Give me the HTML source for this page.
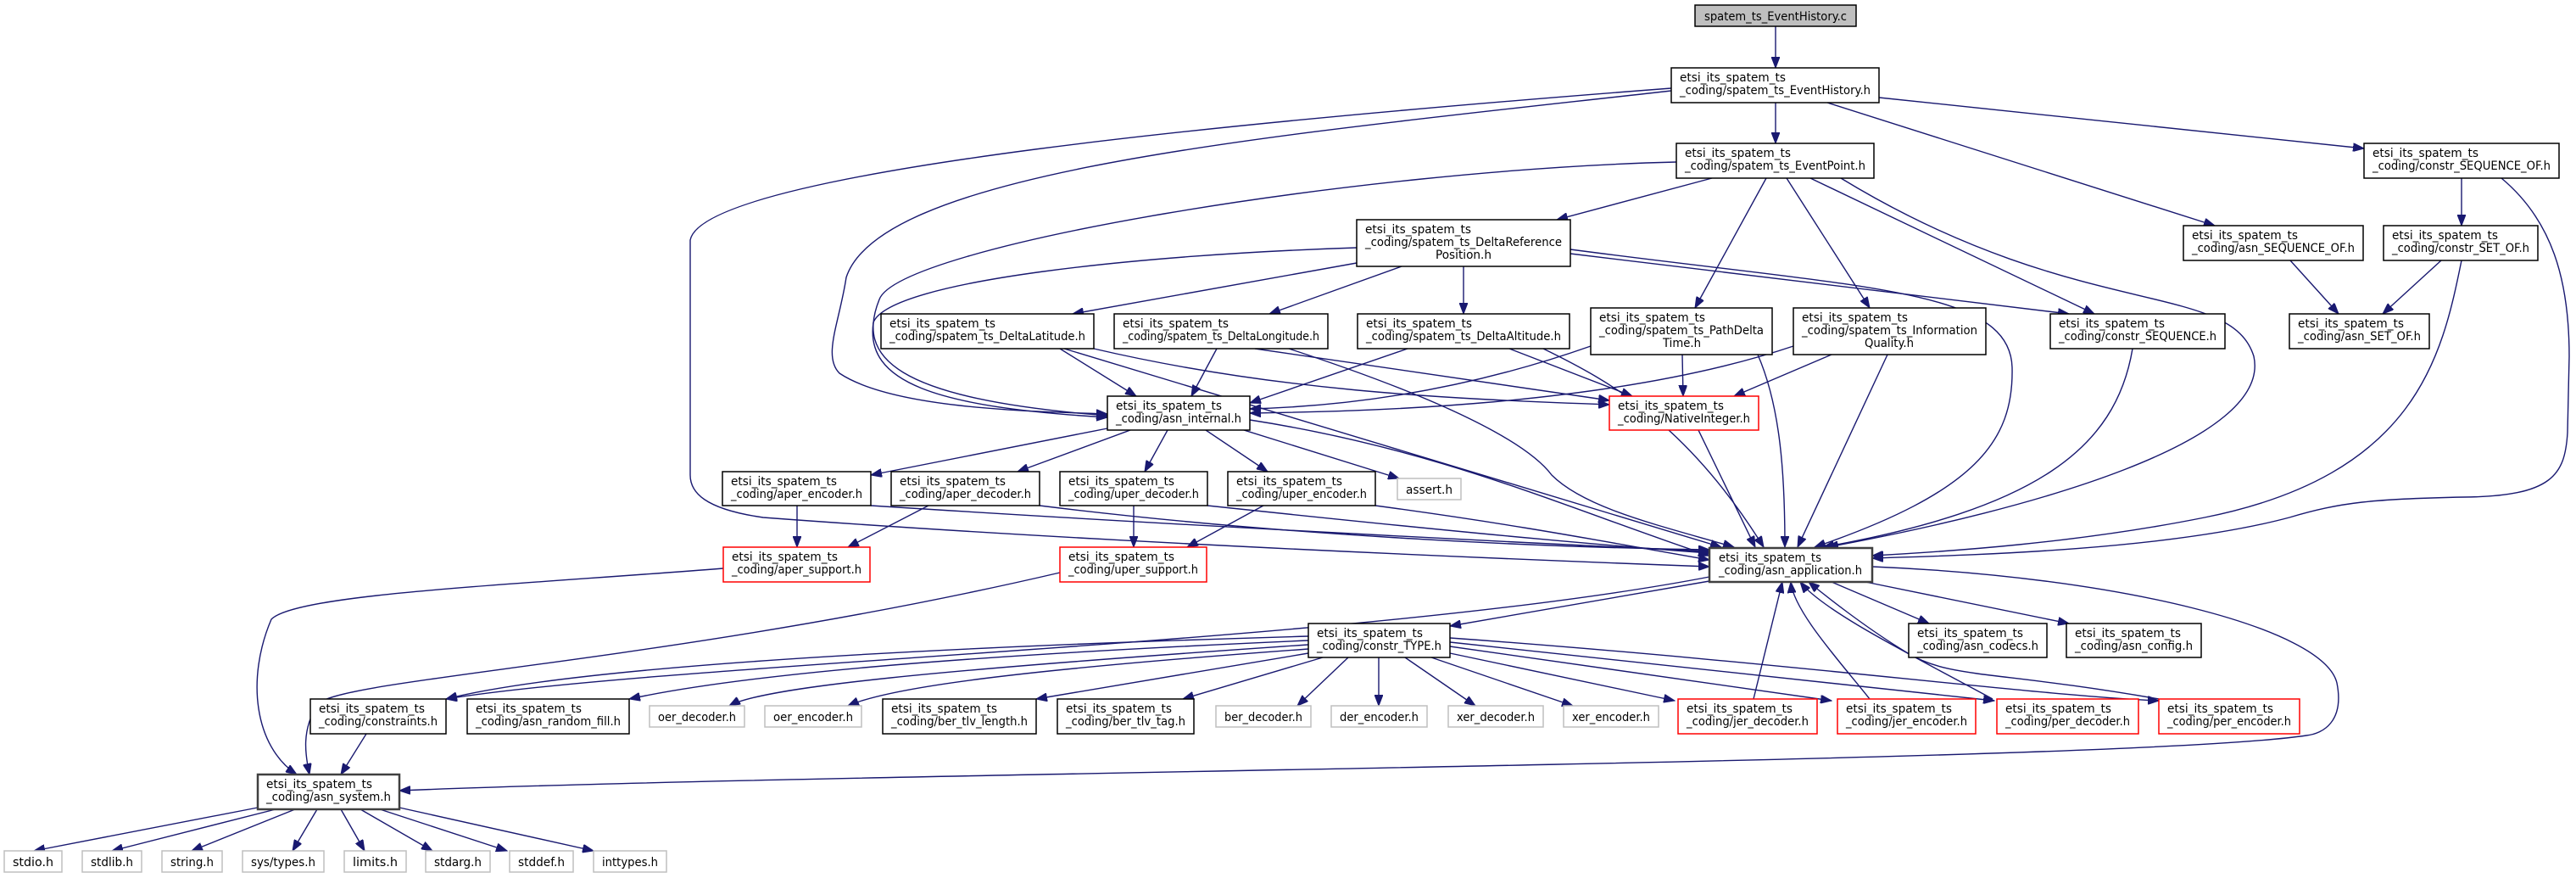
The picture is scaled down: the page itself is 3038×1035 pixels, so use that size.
<!DOCTYPE html>
<html><head><meta charset="utf-8"><style>
html,body{margin:0;padding:0;background:#fff;}
svg{display:block}
text{font-family:"DejaVu Sans","Liberation Sans",sans-serif;font-size:14px;fill:#000}
.n{fill:#fff;stroke:#000;stroke-width:1.5}
.g{fill:#fff;stroke:#bfbfbf;stroke-width:1.5}
.r{fill:#fff;stroke:#ff0000;stroke-width:1.5}
.d{fill:#fff;stroke:#404040;stroke-width:2.5}
.e path{fill:none;stroke:#191970;stroke-width:1.4}
</style></head><body>
<svg width="3038" height="1035" viewBox="0 0 3038 1035" xmlns="http://www.w3.org/2000/svg">
<defs><marker id="a" markerUnits="userSpaceOnUse" markerWidth="14" markerHeight="10" refX="13" refY="5" orient="auto"><path d="M0,0 L13,5 L0,10 z" fill="#191970" stroke="#191970"/></marker></defs>
<g class="e">
<path d="M2094,31 L2094,80" marker-end="url(#a)"/>
<path d="M2094,121 L2094,169" marker-end="url(#a)"/>
<path d="M2216,115 L2788,175" marker-end="url(#a)"/>
<path d="M2155,121 L2612,266" marker-end="url(#a)"/>
<path d="M1971,107 C1500,160 1040,200 998,327 C990,380 970,420 990,440 C1050,480 1200,485 1306,488" marker-end="url(#a)"/>
<path d="M1971,104 C1500,140 830,200 814,283 L814,560 C814,580 830,600 900,610 C1300,640 1800,660 2016,668" marker-end="url(#a)"/>
<path d="M2019,210 L1836,259" marker-end="url(#a)"/>
<path d="M1977,191 C1600,200 1060,290 1037,353 C1010,420 1050,470 1306,490" marker-end="url(#a)"/>
<path d="M1600,292 C1350,300 1050,330 1030,380 C1020,450 1100,480 1306,492" marker-end="url(#a)"/>
<path d="M2083,210 L1999,363" marker-end="url(#a)"/>
<path d="M2107,210 L2205,363" marker-end="url(#a)"/>
<path d="M2135,210 L2470,370" marker-end="url(#a)"/>
<path d="M2171,210 C2450,380 2630,330 2658,420 C2680,520 2400,600 2155,645" marker-end="url(#a)"/>
<path d="M1600,310 L1265,370" marker-end="url(#a)"/>
<path d="M1653,314 L1497,370" marker-end="url(#a)"/>
<path d="M1726,314 L1726,370" marker-end="url(#a)"/>
<path d="M1852,294 C2200,340 2370,340 2373,433 C2375,520 2330,580 2140,645" marker-end="url(#a)"/>
<path d="M1852,299 L2440,370" marker-end="url(#a)"/>
<path d="M1250,411 L1340,467" marker-end="url(#a)"/>
<path d="M1290,411 C1500,460 1700,470 1898,477" marker-end="url(#a)"/>
<path d="M1255,411 L2030,645" marker-end="url(#a)"/>
<path d="M1435,411 L1405,467" marker-end="url(#a)"/>
<path d="M1480,411 L1898,472" marker-end="url(#a)"/>
<path d="M1520,411 C1700,470 1800,520 1830,560 C1870,600 1960,620 2045,645" marker-end="url(#a)"/>
<path d="M1660,411 L1474,475" marker-end="url(#a)"/>
<path d="M1780,411 L1925,467" marker-end="url(#a)"/>
<path d="M1820,411 C1900,450 1990,500 2080,645" marker-end="url(#a)"/>
<path d="M1876,408 C1700,470 1550,480 1474,482" marker-end="url(#a)"/>
<path d="M1984,418 L1985,467" marker-end="url(#a)"/>
<path d="M2073,418 C2100,480 2105,560 2105,645" marker-end="url(#a)"/>
<path d="M2115,408 C1900,480 1600,485 1474,487" marker-end="url(#a)"/>
<path d="M2160,418 L2045,467" marker-end="url(#a)"/>
<path d="M2226,418 L2120,645" marker-end="url(#a)"/>
<path d="M2515,411 C2495,530 2400,600 2150,645" marker-end="url(#a)"/>
<path d="M2903,210 L2903,266" marker-end="url(#a)"/>
<path d="M2950,210 C3010,260 3030,330 3030,420 L3028,510 C3025,560 3010,585 2906,586 C2800,588 2760,592 2700,610 C2550,650 2300,655 2208,658" marker-end="url(#a)"/>
<path d="M2701,307 L2758,370" marker-end="url(#a)"/>
<path d="M2879,307 L2810,370" marker-end="url(#a)"/>
<path d="M2903,307 C2880,420 2850,560 2600,610 C2450,640 2300,650 2208,655" marker-end="url(#a)"/>
<path d="M2003,507 L2070,645" marker-end="url(#a)"/>
<path d="M1306,505 L1027,560" marker-end="url(#a)"/>
<path d="M1333,507 L1200,556" marker-end="url(#a)"/>
<path d="M1377,507 L1350,556" marker-end="url(#a)"/>
<path d="M1422,507 L1495,556" marker-end="url(#a)"/>
<path d="M1467,507 L1650,564" marker-end="url(#a)"/>
<path d="M1474,495 C1700,530 1850,600 2016,655" marker-end="url(#a)"/>
<path d="M940,596 L940,645" marker-end="url(#a)"/>
<path d="M1027,596 C1400,620 1800,640 2016,650" marker-end="url(#a)"/>
<path d="M1095,596 L1000,645" marker-end="url(#a)"/>
<path d="M1226,596 C1500,630 1800,645 2016,648" marker-end="url(#a)"/>
<path d="M1337,596 L1337,645" marker-end="url(#a)"/>
<path d="M1424,596 C1650,620 1850,640 2016,652" marker-end="url(#a)"/>
<path d="M1490,596 L1400,645" marker-end="url(#a)"/>
<path d="M1622,596 C1800,620 1900,640 2016,660" marker-end="url(#a)"/>
<path d="M853,670 C600,690 350,700 320,730 C290,800 300,880 350,913" marker-end="url(#a)"/>
<path d="M1250,675 C800,780 400,800 375,830 C355,860 360,890 365,913" marker-end="url(#a)"/>
<path d="M2016,685 L1710,738" marker-end="url(#a)"/>
<path d="M2160,686 L2275,735" marker-end="url(#a)"/>
<path d="M2200,686 L2440,735" marker-end="url(#a)"/>
<path d="M2208,668 C2500,680 2740,740 2756,805 C2765,850 2740,865 2720,867 C2500,900 1000,910 471,932" marker-end="url(#a)"/>
<path d="M2016,680 C1600,760 800,780 526,824" marker-end="url(#a)"/>
<path d="M1543,750 C1200,760 700,780 526,824" marker-end="url(#a)"/>
<path d="M1543,755 C1200,770 900,790 742,824" marker-end="url(#a)"/>
<path d="M1543,760 C1100,790 900,810 860,832" marker-end="url(#a)"/>
<path d="M1543,765 C1200,790 1050,810 1000,832" marker-end="url(#a)"/>
<path d="M1543,770 L1222,824" marker-end="url(#a)"/>
<path d="M1560,775 L1395,824" marker-end="url(#a)"/>
<path d="M1590,775 L1530,832" marker-end="url(#a)"/>
<path d="M1626,775 L1626,832" marker-end="url(#a)"/>
<path d="M1657,775 L1740,832" marker-end="url(#a)"/>
<path d="M1688,775 L1855,832" marker-end="url(#a)"/>
<path d="M1710,770 L1975,826" marker-end="url(#a)"/>
<path d="M1710,762 L2160,826" marker-end="url(#a)"/>
<path d="M1710,757 L2352,826" marker-end="url(#a)"/>
<path d="M1710,752 C2100,780 2400,820 2546,826" marker-end="url(#a)"/>
<path d="M432,865 L402,913" marker-end="url(#a)"/>
<path d="M2068,824 L2102,686" marker-end="url(#a)"/>
<path d="M2205,824 C2170,780 2115,720 2112,686" marker-end="url(#a)"/>
<path d="M2350,824 C2250,770 2150,720 2123,686" marker-end="url(#a)"/>
<path d="M2546,824 C2350,790 2300,800 2250,770 C2200,740 2150,700 2133,686" marker-end="url(#a)"/>
<path d="M304,952 L40,1003" marker-end="url(#a)"/>
<path d="M325,954 L132,1003" marker-end="url(#a)"/>
<path d="M348,954 L226,1003" marker-end="url(#a)"/>
<path d="M374,954 L345,1003" marker-end="url(#a)"/>
<path d="M402,954 L430,1003" marker-end="url(#a)"/>
<path d="M425,954 L510,1003" marker-end="url(#a)"/>
<path d="M448,954 L598,1003" marker-end="url(#a)"/>
<path d="M471,952 L700,1003" marker-end="url(#a)"/>
</g>
<rect x="1999" y="6" width="190" height="25" fill="#bfbfbf" stroke="#000" stroke-width="1.5"/><text x="2010" y="24" textLength="168" lengthAdjust="spacingAndGlyphs">spatem_ts_EventHistory.c</text>
<rect class="n" x="1971" y="80" width="245" height="41"/><text x="1981" y="96" textLength="125" lengthAdjust="spacingAndGlyphs">etsi_its_spatem_ts</text><text x="1981" y="111" textLength="225" lengthAdjust="spacingAndGlyphs">_coding/spatem_ts_EventHistory.h</text>
<rect class="n" x="1977" y="169" width="233" height="41"/><text x="1987" y="185" textLength="125" lengthAdjust="spacingAndGlyphs">etsi_its_spatem_ts</text><text x="1987" y="200" textLength="213" lengthAdjust="spacingAndGlyphs">_coding/spatem_ts_EventPoint.h</text>
<rect class="n" x="2788" y="169" width="230" height="41"/><text x="2798" y="185" textLength="125" lengthAdjust="spacingAndGlyphs">etsi_its_spatem_ts</text><text x="2798" y="200" textLength="210" lengthAdjust="spacingAndGlyphs">_coding/constr_SEQUENCE_OF.h</text>
<rect class="n" x="1600" y="259" width="252" height="55"/><text x="1610" y="275" textLength="125" lengthAdjust="spacingAndGlyphs">etsi_its_spatem_ts</text><text x="1610" y="290" textLength="232" lengthAdjust="spacingAndGlyphs">_coding/spatem_ts_DeltaReference</text><text x="1693" y="305" textLength="66" lengthAdjust="spacingAndGlyphs">Position.h</text>
<rect class="n" x="2575" y="266" width="212" height="41"/><text x="2585" y="282" textLength="125" lengthAdjust="spacingAndGlyphs">etsi_its_spatem_ts</text><text x="2585" y="297" textLength="192" lengthAdjust="spacingAndGlyphs">_coding/asn_SEQUENCE_OF.h</text>
<rect class="n" x="2811" y="266" width="182" height="41"/><text x="2821" y="282" textLength="125" lengthAdjust="spacingAndGlyphs">etsi_its_spatem_ts</text><text x="2821" y="297" textLength="162" lengthAdjust="spacingAndGlyphs">_coding/constr_SET_OF.h</text>
<rect class="n" x="1039" y="370" width="251" height="41"/><text x="1049" y="386" textLength="125" lengthAdjust="spacingAndGlyphs">etsi_its_spatem_ts</text><text x="1049" y="401" textLength="231" lengthAdjust="spacingAndGlyphs">_coding/spatem_ts_DeltaLatitude.h</text>
<rect class="n" x="1314" y="370" width="252" height="41"/><text x="1324" y="386" textLength="125" lengthAdjust="spacingAndGlyphs">etsi_its_spatem_ts</text><text x="1324" y="401" textLength="232" lengthAdjust="spacingAndGlyphs">_coding/spatem_ts_DeltaLongitude.h</text>
<rect class="n" x="1601" y="370" width="250" height="41"/><text x="1611" y="386" textLength="125" lengthAdjust="spacingAndGlyphs">etsi_its_spatem_ts</text><text x="1611" y="401" textLength="230" lengthAdjust="spacingAndGlyphs">_coding/spatem_ts_DeltaAltitude.h</text>
<rect class="n" x="1876" y="363" width="214" height="55"/><text x="1886" y="379" textLength="125" lengthAdjust="spacingAndGlyphs">etsi_its_spatem_ts</text><text x="1886" y="394" textLength="194" lengthAdjust="spacingAndGlyphs">_coding/spatem_ts_PathDelta</text><text x="1961" y="409" textLength="45" lengthAdjust="spacingAndGlyphs">Time.h</text>
<rect class="n" x="2115" y="363" width="227" height="55"/><text x="2125" y="379" textLength="125" lengthAdjust="spacingAndGlyphs">etsi_its_spatem_ts</text><text x="2125" y="394" textLength="207" lengthAdjust="spacingAndGlyphs">_coding/spatem_ts_Information</text><text x="2199" y="409" textLength="58" lengthAdjust="spacingAndGlyphs">Quality.h</text>
<rect class="n" x="2418" y="370" width="206" height="41"/><text x="2428" y="386" textLength="125" lengthAdjust="spacingAndGlyphs">etsi_its_spatem_ts</text><text x="2428" y="401" textLength="186" lengthAdjust="spacingAndGlyphs">_coding/constr_SEQUENCE.h</text>
<rect class="n" x="2700" y="370" width="165" height="41"/><text x="2710" y="386" textLength="125" lengthAdjust="spacingAndGlyphs">etsi_its_spatem_ts</text><text x="2710" y="401" textLength="145" lengthAdjust="spacingAndGlyphs">_coding/asn_SET_OF.h</text>
<rect class="r" x="1898" y="467" width="176" height="40"/><text x="1908" y="483" textLength="125" lengthAdjust="spacingAndGlyphs">etsi_its_spatem_ts</text><text x="1908" y="498" textLength="156" lengthAdjust="spacingAndGlyphs">_coding/NativeInteger.h</text>
<rect class="n" x="1306" y="467" width="168" height="40"/><text x="1316" y="483" textLength="125" lengthAdjust="spacingAndGlyphs">etsi_its_spatem_ts</text><text x="1316" y="498" textLength="148" lengthAdjust="spacingAndGlyphs">_coding/asn_internal.h</text>
<rect class="n" x="852" y="556" width="175" height="40"/><text x="862" y="572" textLength="125" lengthAdjust="spacingAndGlyphs">etsi_its_spatem_ts</text><text x="862" y="587" textLength="155" lengthAdjust="spacingAndGlyphs">_coding/aper_encoder.h</text>
<rect class="n" x="1051" y="556" width="175" height="40"/><text x="1061" y="572" textLength="125" lengthAdjust="spacingAndGlyphs">etsi_its_spatem_ts</text><text x="1061" y="587" textLength="155" lengthAdjust="spacingAndGlyphs">_coding/aper_decoder.h</text>
<rect class="n" x="1250" y="556" width="174" height="40"/><text x="1260" y="572" textLength="125" lengthAdjust="spacingAndGlyphs">etsi_its_spatem_ts</text><text x="1260" y="587" textLength="154" lengthAdjust="spacingAndGlyphs">_coding/uper_decoder.h</text>
<rect class="n" x="1448" y="556" width="174" height="40"/><text x="1458" y="572" textLength="125" lengthAdjust="spacingAndGlyphs">etsi_its_spatem_ts</text><text x="1458" y="587" textLength="154" lengthAdjust="spacingAndGlyphs">_coding/uper_encoder.h</text>
<rect class="g" x="1648" y="564" width="75" height="25"/><text x="1658" y="582" textLength="55" lengthAdjust="spacingAndGlyphs">assert.h</text>
<rect class="r" x="853" y="645" width="173" height="41"/><text x="863" y="661" textLength="125" lengthAdjust="spacingAndGlyphs">etsi_its_spatem_ts</text><text x="863" y="676" textLength="153" lengthAdjust="spacingAndGlyphs">_coding/aper_support.h</text>
<rect class="r" x="1250" y="645" width="173" height="41"/><text x="1260" y="661" textLength="125" lengthAdjust="spacingAndGlyphs">etsi_its_spatem_ts</text><text x="1260" y="676" textLength="153" lengthAdjust="spacingAndGlyphs">_coding/uper_support.h</text>
<rect class="d" x="2016" y="646" width="192" height="40"/><text x="2027" y="662" textLength="121" lengthAdjust="spacingAndGlyphs">etsi_its_spatem_ts</text><text x="2027" y="677" textLength="169" lengthAdjust="spacingAndGlyphs">_coding/asn_application.h</text>
<rect class="n" x="1543" y="735" width="167" height="40"/><text x="1553" y="751" textLength="125" lengthAdjust="spacingAndGlyphs">etsi_its_spatem_ts</text><text x="1553" y="766" textLength="147" lengthAdjust="spacingAndGlyphs">_coding/constr_TYPE.h</text>
<rect class="n" x="2251" y="735" width="163" height="40"/><text x="2261" y="751" textLength="125" lengthAdjust="spacingAndGlyphs">etsi_its_spatem_ts</text><text x="2261" y="766" textLength="143" lengthAdjust="spacingAndGlyphs">_coding/asn_codecs.h</text>
<rect class="n" x="2437" y="735" width="159" height="40"/><text x="2447" y="751" textLength="125" lengthAdjust="spacingAndGlyphs">etsi_its_spatem_ts</text><text x="2447" y="766" textLength="139" lengthAdjust="spacingAndGlyphs">_coding/asn_config.h</text>
<rect class="n" x="366" y="824" width="160" height="41"/><text x="376" y="840" textLength="125" lengthAdjust="spacingAndGlyphs">etsi_its_spatem_ts</text><text x="376" y="855" textLength="140" lengthAdjust="spacingAndGlyphs">_coding/constraints.h</text>
<rect class="n" x="551" y="824" width="191" height="41"/><text x="561" y="840" textLength="125" lengthAdjust="spacingAndGlyphs">etsi_its_spatem_ts</text><text x="561" y="855" textLength="171" lengthAdjust="spacingAndGlyphs">_coding/asn_random_fill.h</text>
<rect class="g" x="766" y="832" width="112" height="25"/><text x="776" y="850" textLength="92" lengthAdjust="spacingAndGlyphs">oer_decoder.h</text>
<rect class="g" x="902" y="832" width="114" height="25"/><text x="912" y="850" textLength="94" lengthAdjust="spacingAndGlyphs">oer_encoder.h</text>
<rect class="n" x="1041" y="824" width="181" height="41"/><text x="1051" y="840" textLength="125" lengthAdjust="spacingAndGlyphs">etsi_its_spatem_ts</text><text x="1051" y="855" textLength="161" lengthAdjust="spacingAndGlyphs">_coding/ber_tlv_length.h</text>
<rect class="n" x="1247" y="824" width="161" height="41"/><text x="1257" y="840" textLength="125" lengthAdjust="spacingAndGlyphs">etsi_its_spatem_ts</text><text x="1257" y="855" textLength="141" lengthAdjust="spacingAndGlyphs">_coding/ber_tlv_tag.h</text>
<rect class="g" x="1434" y="832" width="112" height="25"/><text x="1444" y="850" textLength="92" lengthAdjust="spacingAndGlyphs">ber_decoder.h</text>
<rect class="g" x="1570" y="832" width="113" height="25"/><text x="1580" y="850" textLength="93" lengthAdjust="spacingAndGlyphs">der_encoder.h</text>
<rect class="g" x="1708" y="832" width="112" height="25"/><text x="1718" y="850" textLength="92" lengthAdjust="spacingAndGlyphs">xer_decoder.h</text>
<rect class="g" x="1844" y="832" width="112" height="25"/><text x="1854" y="850" textLength="92" lengthAdjust="spacingAndGlyphs">xer_encoder.h</text>
<rect class="r" x="1979" y="824" width="164" height="41"/><text x="1989" y="840" textLength="125" lengthAdjust="spacingAndGlyphs">etsi_its_spatem_ts</text><text x="1989" y="855" textLength="144" lengthAdjust="spacingAndGlyphs">_coding/jer_decoder.h</text>
<rect class="r" x="2167" y="824" width="163" height="41"/><text x="2177" y="840" textLength="125" lengthAdjust="spacingAndGlyphs">etsi_its_spatem_ts</text><text x="2177" y="855" textLength="143" lengthAdjust="spacingAndGlyphs">_coding/jer_encoder.h</text>
<rect class="r" x="2355" y="824" width="167" height="41"/><text x="2365" y="840" textLength="125" lengthAdjust="spacingAndGlyphs">etsi_its_spatem_ts</text><text x="2365" y="855" textLength="147" lengthAdjust="spacingAndGlyphs">_coding/per_decoder.h</text>
<rect class="r" x="2546" y="824" width="166" height="41"/><text x="2556" y="840" textLength="125" lengthAdjust="spacingAndGlyphs">etsi_its_spatem_ts</text><text x="2556" y="855" textLength="146" lengthAdjust="spacingAndGlyphs">_coding/per_encoder.h</text>
<rect class="d" x="304" y="913" width="167" height="41"/><text x="314" y="929" textLength="125" lengthAdjust="spacingAndGlyphs">etsi_its_spatem_ts</text><text x="314" y="944" textLength="147" lengthAdjust="spacingAndGlyphs">_coding/asn_system.h</text>
<rect class="g" x="5" y="1003" width="68" height="25"/><text x="15" y="1021" textLength="48" lengthAdjust="spacingAndGlyphs">stdio.h</text>
<rect class="g" x="97" y="1003" width="70" height="25"/><text x="107" y="1021" textLength="50" lengthAdjust="spacingAndGlyphs">stdlib.h</text>
<rect class="g" x="191" y="1003" width="71" height="25"/><text x="201" y="1021" textLength="51" lengthAdjust="spacingAndGlyphs">string.h</text>
<rect class="g" x="286" y="1003" width="96" height="25"/><text x="296" y="1021" textLength="76" lengthAdjust="spacingAndGlyphs">sys/types.h</text>
<rect class="g" x="406" y="1003" width="73" height="25"/><text x="416" y="1021" textLength="53" lengthAdjust="spacingAndGlyphs">limits.h</text>
<rect class="g" x="502" y="1003" width="76" height="25"/><text x="512" y="1021" textLength="56" lengthAdjust="spacingAndGlyphs">stdarg.h</text>
<rect class="g" x="601" y="1003" width="75" height="25"/><text x="611" y="1021" textLength="55" lengthAdjust="spacingAndGlyphs">stddef.h</text>
<rect class="g" x="700" y="1003" width="86" height="25"/><text x="710" y="1021" textLength="66" lengthAdjust="spacingAndGlyphs">inttypes.h</text>
</svg>
</body></html>
